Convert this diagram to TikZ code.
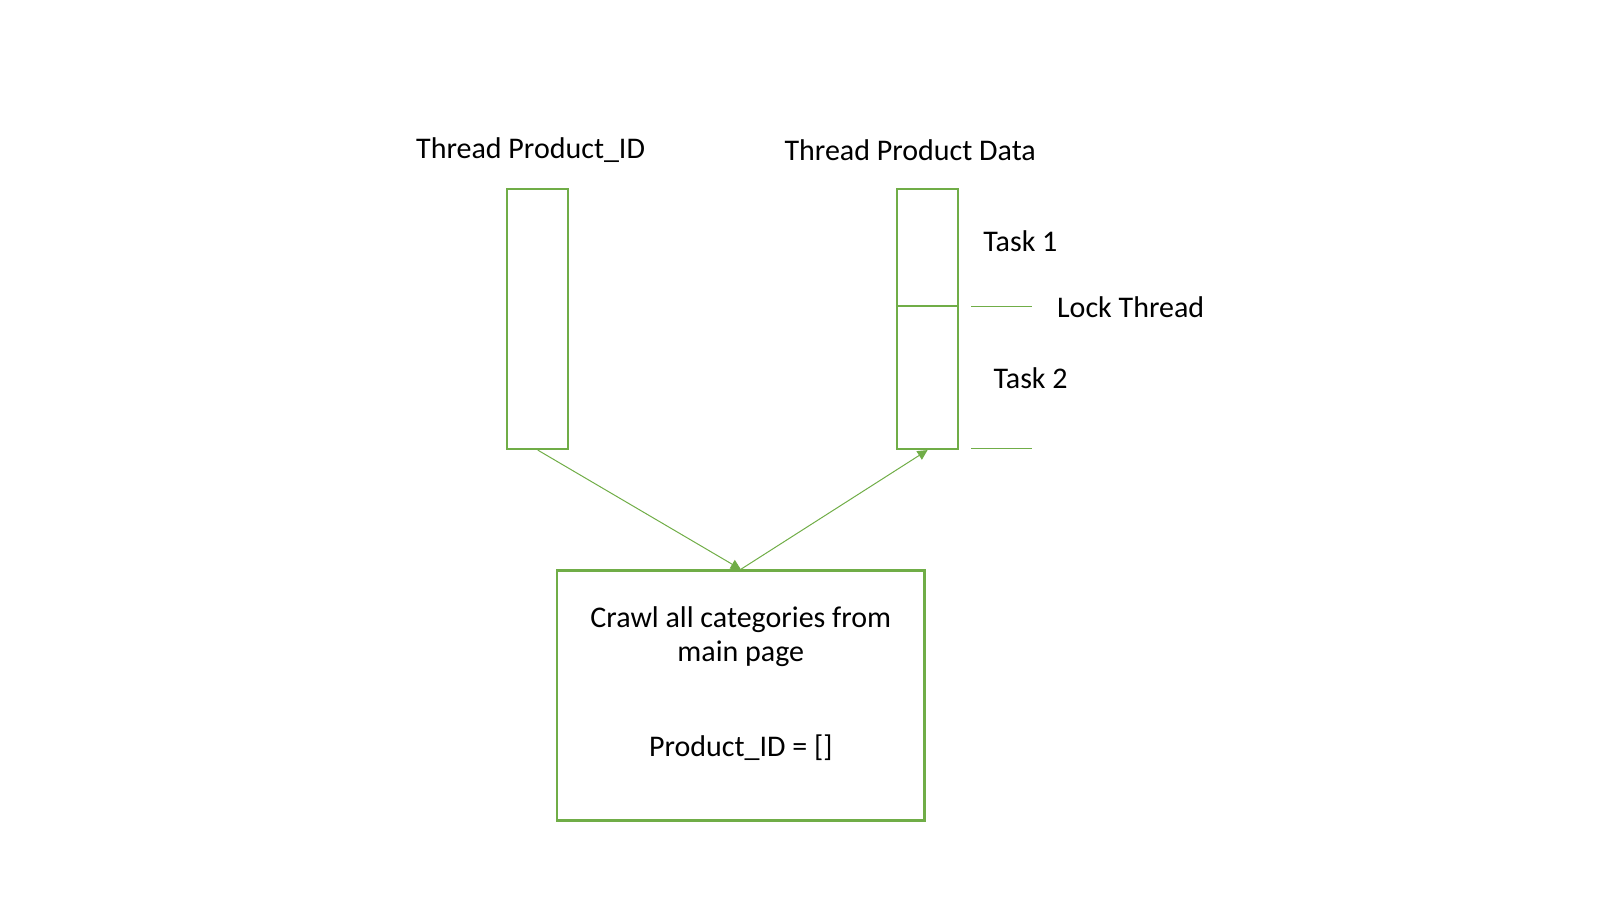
\documentclass[tikz,border=0pt]{standalone}
\usepackage{fontspec}
\setmainfont{Carlito}
\definecolor{threadgreen}{RGB}{112, 173, 71}
\usepackage{tikz}
\usetikzlibrary{arrows.meta, positioning, calc}

\begin{document}
\begin{tikzpicture}[x=0.5102pt, y=-0.5102pt, font=\fontsize{15}{17.3}\selectfont]
  \useasboundingbox (0, 0) rectangle (1568, 882);

  % Threads
  \node[draw=threadgreen, line width=1.1pt, minimum width=30.6pt, minimum height=130.1pt, inner sep=0pt] (idbar) at (527, 312.5) {};
  \node[draw=threadgreen, line width=1.1pt, minimum width=30.6pt, minimum height=130.1pt, inner sep=0pt] (databar) at (909, 312.5) {};
  \node (idlabel) at (520, 147) {Thread Product\_ID};
  \node (datalabel) at (892, 147) {Thread Product Data};

  % Tasks and lock
  \coordinate (lockw) at (databar.west |- 0, 300);
  \coordinate (locke) at (databar.east |- 0, 300);
  \draw[threadgreen, line width=1.1pt] (lockw) -- (locke);
  \draw[threadgreen, line width=0.5pt] (952, 300) -- (1011, 300);
  \draw[threadgreen, line width=0.5pt] (952, 440) -- (1011, 440);
  \node (task1) at (1000, 236) {Task 1};
  \node (lock) at (1108, 301) {Lock Thread};
  \node (task2) at (1010, 371) {Task 2};

  % Crawler
  \node[draw=threadgreen, line width=1.1pt, minimum width=183.7pt, minimum height=125pt] (crawl) at (726, 681.5) {};
  \node[align=center] (crawltext) at (726, 624) {Crawl all categories from\\main page};
  \node (ids) at (726, 733) {Product\_ID = []};

  \draw[-{Triangle[length=5pt, width=5pt]}, threadgreen, line width=0.5pt] (idbar.south) -- (crawl.north);
  \draw[-{Triangle[length=5pt, width=5pt]}, threadgreen, line width=0.5pt] (crawl.north) -- (databar.south);
\end{tikzpicture}
\end{document}
